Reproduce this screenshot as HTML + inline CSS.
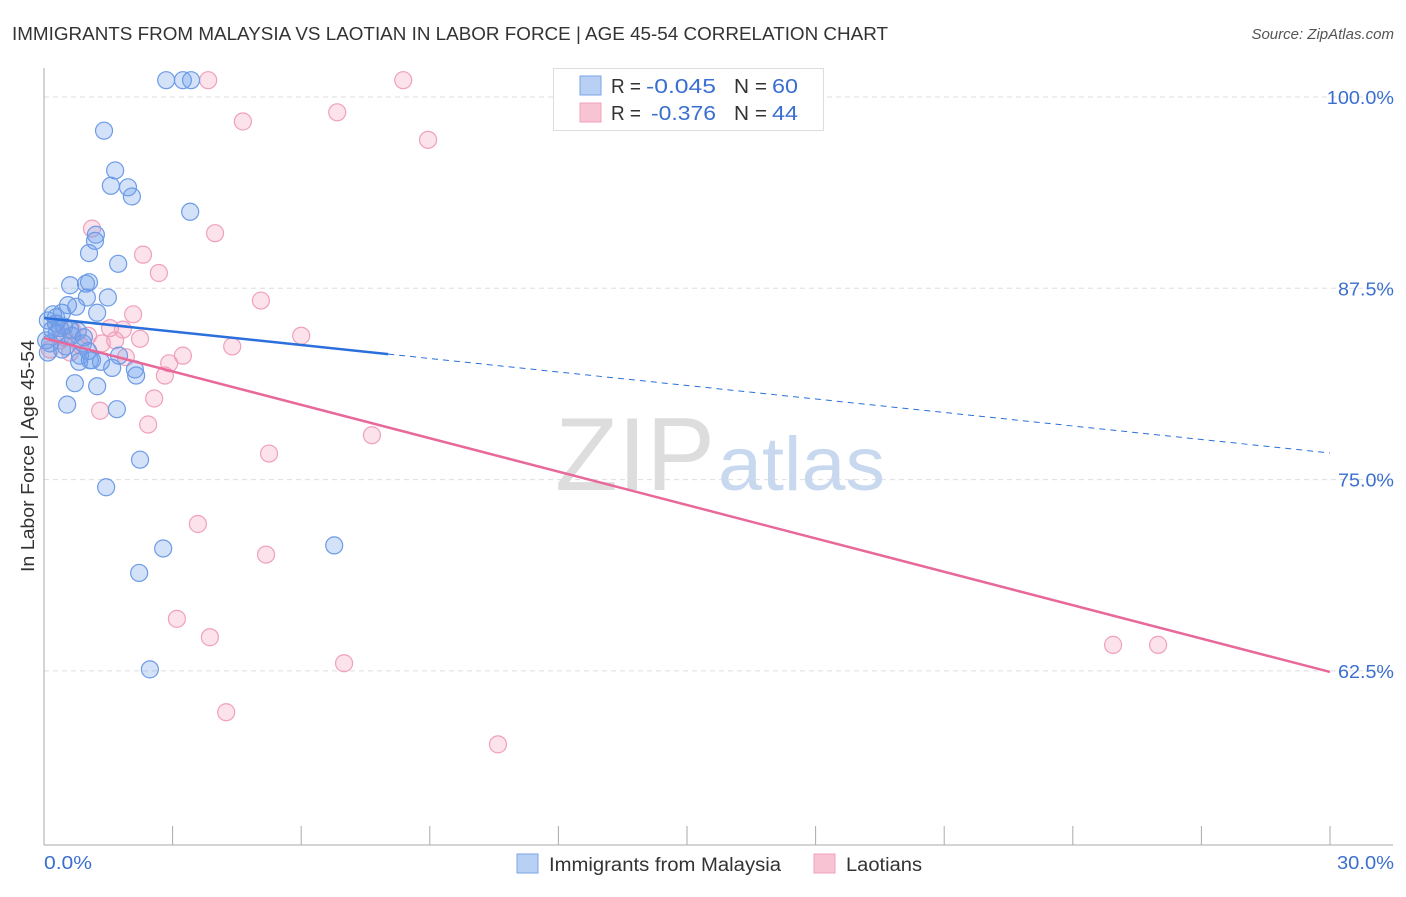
<!DOCTYPE html>
<html><head><meta charset="utf-8"><style>
body{margin:0;background:#fff;font-family:"Liberation Sans",sans-serif;}
svg text{font-family:"Liberation Sans",sans-serif;}
</style></head><body>
<svg id="chart" width="1406" height="892" viewBox="0 0 1406 892">
<text x="12" y="40" font-size="18.5" fill="#333" textLength="876" lengthAdjust="spacingAndGlyphs">IMMIGRANTS FROM MALAYSIA VS LAOTIAN IN LABOR FORCE | AGE 45-54 CORRELATION CHART</text>
<text x="1394" y="39" font-size="15" fill="#555" font-style="italic" text-anchor="end">Source: ZipAtlas.com</text>
<g id="grid"></g>
<text x="555" y="490" font-size="104" fill="#ddd" textLength="160" lengthAdjust="spacingAndGlyphs" font-family="Liberation Serif">ZIP</text>
<text x="718" y="490" font-size="76" fill="#c8d8ee" textLength="167" lengthAdjust="spacingAndGlyphs">atlas</text>
<g id="pts"></g>
<g id="lines"></g>
<text transform="translate(34,456) rotate(-90)" font-size="18.5" fill="#333" text-anchor="middle" textLength="232" lengthAdjust="spacingAndGlyphs">In Labor Force | Age 45-54</text>
<text x="44" y="869" font-size="18" fill="#3a6fd0" textLength="48" lengthAdjust="spacingAndGlyphs">0.0%</text>
<text x="1337" y="869" font-size="18" fill="#3a6fd0" textLength="57" lengthAdjust="spacingAndGlyphs">30.0%</text>
<g>
<rect x="553.5" y="68.5" width="270" height="62" fill="#fff" stroke="#ddd"/>
<rect x="580" y="76" width="21" height="19" fill="#b8d0f4" stroke="#7aa4e4"/>
<rect x="580" y="103" width="21" height="19" fill="#f8c4d4" stroke="#f0a0bc"/>
<text y="93" font-size="20" fill="#333"><tspan x="611" textLength="30" lengthAdjust="spacingAndGlyphs">R =</tspan><tspan x="646" fill="#3a6fd0" textLength="70" lengthAdjust="spacingAndGlyphs">-0.045</tspan><tspan x="734" textLength="33" lengthAdjust="spacingAndGlyphs">N =</tspan><tspan x="772" fill="#3a6fd0" textLength="26" lengthAdjust="spacingAndGlyphs">60</tspan></text>
<text y="120" font-size="20" fill="#333"><tspan x="611" textLength="30" lengthAdjust="spacingAndGlyphs">R =</tspan><tspan x="651" fill="#3a6fd0" textLength="65" lengthAdjust="spacingAndGlyphs">-0.376</tspan><tspan x="734" textLength="33" lengthAdjust="spacingAndGlyphs">N =</tspan><tspan x="772" fill="#3a6fd0" textLength="26" lengthAdjust="spacingAndGlyphs">44</tspan></text>
</g>
<g>
<rect x="517" y="854" width="21" height="19" fill="#b8d0f4" stroke="#7aa4e4"/>
<text x="549" y="871" font-size="19" fill="#333" textLength="232" lengthAdjust="spacingAndGlyphs">Immigrants from Malaysia</text>
<rect x="814" y="854" width="21" height="19" fill="#f8c4d4" stroke="#f0a0bc"/>
<text x="846" y="871" font-size="19" fill="#333" textLength="76" lengthAdjust="spacingAndGlyphs">Laotians</text>
</g>
</svg>
<script>
const yTicks=[100,87.5,75,62.5];
const yTickLabels=["100.0%","87.5%","75.0%","62.5%"];
const xTicks=[0,3,6,9,12,15,18,21,24,27,30];
const blueX=[2.85,3.24,3.43,1.40,1.66,1.56,1.96,2.05,3.41,1.21,1.19,1.05,1.73,0.61,0.98,1.05,1.49,1.00,0.56,0.75,1.24,0.21,0.42,0.09,0.28,0.37,0.47,0.61,0.79,0.93,0.14,0.42,0.91,0.84,0.82,1.07,1.33,1.75,1.59,2.12,2.15,0.72,1.24,0.54,1.70,2.24,1.45,2.78,6.77,2.22,2.47,0.19,0.05,0.30,0.65,0.51,1.03,0.09,1.12,0.28];
const blueY=[101.1,101.1,101.1,97.8,95.2,94.2,94.1,93.5,92.5,91.0,90.6,89.8,89.1,87.7,87.8,87.9,86.9,86.9,86.4,86.3,85.9,85.8,85.9,85.4,85.2,84.9,85.0,84.8,84.7,84.3,83.9,83.5,83.9,83.1,82.7,82.8,82.7,83.1,82.3,82.2,81.8,81.3,81.1,79.9,79.6,76.3,74.5,70.5,70.7,68.9,62.6,84.8,84.1,84.6,84.4,83.7,83.4,83.3,82.8,85.6];
const pinkX=[3.83,8.38,4.64,6.84,8.96,1.12,3.99,2.31,2.68,5.06,2.08,6.00,1.54,1.84,2.24,1.35,4.39,3.24,2.92,1.91,2.82,2.57,1.31,2.43,7.65,5.25,3.59,5.18,3.10,3.87,7.00,4.25,10.59,24.94,25.99,0.14,0.37,0.65,0.84,1.03,0.61,1.66,0.28,0.47];
const pinkY=[101.1,101.1,98.4,99.0,97.2,91.4,91.1,89.7,88.5,86.7,85.8,84.4,84.9,84.8,84.2,83.9,83.7,83.1,82.6,83.0,81.8,80.3,79.5,78.6,77.9,76.7,72.1,70.1,65.9,64.7,63.0,59.8,57.7,64.2,64.2,83.5,84.1,84.8,83.8,84.4,83.3,84.1,85.2,84.3];
const blueTrend=[85.56,76.74];
const blueSolidEnd=8.03;
const pinkTrend=[84.25,62.43];
const NS="http://www.w3.org/2000/svg";
const sx=v=>44+v/30*1286;
const sy=v=>97+(100-v)/12.5*191.3;
function mk(tag,attrs,parent){const e=document.createElementNS(NS,tag);for(const k in attrs)e.setAttribute(k,attrs[k]);parent.appendChild(e);return e;}
const grid=document.getElementById('grid');
yTicks.forEach((t,i)=>{
 const l=mk('line',{x1:44,x2:1393,y1:sy(t),y2:sy(t),stroke:'#ddd','stroke-dasharray':'5,4'},grid);
 
 
 const w=yTickLabels[i].length*11.2;
 const tx=mk('text',{x:1394-w,y:sy(t)+7,'font-size':18,fill:'#3a6fd0',textLength:w,lengthAdjust:'spacingAndGlyphs'},grid);
 tx.textContent=yTickLabels[i];
 
 
});
const ax=mk('line',{x1:44,x2:44,y1:68,y2:845,stroke:'#aaa'},grid);


const bx=mk('line',{x1:44,x2:1393,y1:845,y2:845,stroke:'#aaa'},grid);


xTicks.forEach(t=>{
 const l=mk('line',{x1:sx(t),x2:sx(t),y1:826,y2:845,stroke:'#aaa'},grid);
 
 
});
const pts=document.getElementById('pts');
pinkX.forEach((x,i)=>{
 const c=mk('circle',{cx:sx(x),cy:sy(pinkY[i]),r:8.5,fill:'rgba(244,160,190,0.3)',stroke:'#f0a0bc','stroke-width':1.2},pts);
 
 
});
blueX.forEach((x,i)=>{
 const c=mk('circle',{cx:sx(x),cy:sy(blueY[i]),r:8.5,fill:'rgba(110,160,235,0.3)',stroke:'#6d9be6','stroke-width':1.2},pts);
 
 
});
const lines=document.getElementById('lines');
const by=x=>blueTrend[0]+(blueTrend[1]-blueTrend[0])*x/30;
const l1=mk('line',{x1:sx(0),y1:sy(blueTrend[0]),x2:sx(blueSolidEnd),y2:sy(by(blueSolidEnd)),stroke:'#2a6fdb','stroke-width':2.5},lines);


const l2=mk('line',{x1:sx(blueSolidEnd),y1:sy(by(blueSolidEnd)),x2:sx(30),y2:sy(blueTrend[1]),stroke:'#2a6fdb','stroke-width':1,'stroke-dasharray':'6,5'},lines);


const l3=mk('line',{x1:sx(0),y1:sy(pinkTrend[0]),x2:sx(30),y2:sy(pinkTrend[1]),stroke:'#e8689a','stroke-width':2.5},lines);


</script>
</body></html>
